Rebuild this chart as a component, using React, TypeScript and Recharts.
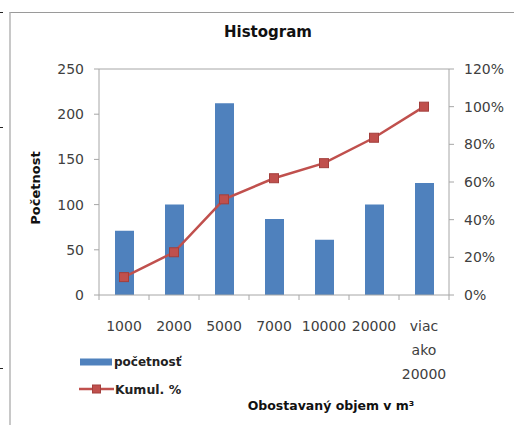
import React from 'react';
import { ComposedChart, Bar, Line, XAxis, YAxis, Legend, ReferenceLine } from 'recharts';

const categories = ['1000', '2000', '5000', '7000', '10000', '20000', 'viac ako 20000'];
const counts = [71, 100, 212, 84, 61, 100, 124];
const cumulative = [9.5, 22.7, 50.8, 62, 70, 83.5, 100];
const leftTicks = [0, 50, 100, 150, 200, 250];
const rightTicks = [0, 20, 40, 60, 80, 100, 120];

const seriesCountName = 'početnosť';
const seriesCumName = 'Kumul. %';

const data = categories.map((c, i) => ({ name: c, count: counts[i], cum: cumulative[i] }));

const FONT = '"DejaVu Sans", sans-serif';
const BLUE = '#4F81BD';
const RED = '#C0504D';
const AXIS = '#a6a6a6';
const TEXT = '#404040';

const XTick = (props: any) => {
  const { x, y, payload, width, visibleTicksCount, index } = props;
  const lines = String(payload.value).split(' ');
  const band = width && visibleTicksCount ? width / visibleTicksCount : 0;
  const isLast = index === visibleTicksCount - 1;
  return (
    <g>
      {band > 0 && <line x1={x - band / 2} y1={y} x2={x - band / 2} y2={y + 5} stroke={AXIS} />}
      {band > 0 && isLast && <line x1={x + band / 2} y1={y} x2={x + band / 2} y2={y + 5} stroke={AXIS} />}
      {lines.map((l, i) => (
        <text
          key={i}
          x={x}
          y={y + 31 + i * 24}
          dy="0.35em"
          textAnchor="middle"
          fill={TEXT}
          fontSize={14}
          fontFamily={FONT}
        >
          {l}
        </text>
      ))}
    </g>
  );
};

const SquareDot = (props: any) => {
  const { cx, cy, index } = props;
  if (cx == null || cy == null) return null;
  return <rect key={index} x={cx - 4.5} y={cy - 4.5} width={9} height={9} fill={RED} stroke="#a33f3c" strokeWidth={1} />;
};

const LegendContent = () => (
  <div style={{ fontFamily: FONT, color: '#222' }}>
    <div style={{ display: 'flex', alignItems: 'center', height: 18 }}>
      <svg width={34} height={10} style={{ display: 'block' }}>
        <rect x={1} y={1.5} width={32} height={7} fill={BLUE} />
      </svg>
      <span style={{ fontSize: 12, fontWeight: 'bold', marginLeft: 1 }}>{seriesCountName}</span>
    </div>
    <div style={{ display: 'flex', alignItems: 'center', height: 18, marginTop: 9 }}>
      <svg width={36} height={12} style={{ display: 'block' }}>
        <line x1={0} y1={6} x2={35} y2={6} stroke={RED} strokeWidth={2.5} />
        <rect x={13.5} y={2} width={8} height={8} fill={RED} stroke="#a33f3c" strokeWidth={1} />
      </svg>
      <span style={{ fontSize: 12.5, fontWeight: 600, marginLeft: 0 }}>{seriesCumName}</span>
    </div>
  </div>
);

export default function App() {
  return (
    <div style={{ position: 'absolute', left: 0, top: 0, width: 514, height: 425, overflow: 'hidden', background: '#fff' }}>
      <div style={{ position: 'absolute', left: 9, top: 12, width: 600, height: 500, borderLeft: '2px solid #c8c8c8', borderTop: '1px solid #9a9a9a' }} />
      <div style={{ position: 'absolute', left: 0, top: 12, width: 3, height: 1, background: '#222' }} />
      <div style={{ position: 'absolute', left: 0, top: 127, width: 3, height: 1, background: '#222' }} />
      <div style={{ position: 'absolute', left: 0, top: 368, width: 3, height: 1, background: '#222' }} />
      <div
        style={{
          position: 'absolute',
          left: 268,
          top: 32,
          transform: 'translate(-50%, -50%)',
          fontFamily: FONT,
          fontWeight: 'bold',
          fontSize: 15,
          color: '#111',
          whiteSpace: 'nowrap',
        }}
      >
        Histogram
      </div>
      <div
        style={{
          position: 'absolute',
          left: 35,
          top: 188,
          transform: 'translate(-50%, -50%) rotate(-90deg)',
          fontFamily: FONT,
          fontWeight: 'bold',
          fontSize: 13,
          color: '#111',
          whiteSpace: 'nowrap',
        }}
      >
        Početnost
      </div>
      <div
        style={{
          position: 'absolute',
          left: 331,
          top: 405,
          transform: 'translate(-50%, -50%)',
          fontFamily: FONT,
          fontWeight: 'bold',
          fontSize: 12.5,
          color: '#111',
          whiteSpace: 'nowrap',
        }}
      >
        Obostavaný objem v m³
      </div>
      <div style={{ position: 'absolute', left: 0, top: 0 }}>
        <ComposedChart width={514} height={425} data={data} margin={{ top: 69, right: 5, left: 49, bottom: 100 }}>
          <XAxis
            dataKey="name"
            xAxisId="cat"
            tick={<XTick />}
            tickLine={false}
            tickSize={0}
            tickMargin={0}
            height={30}
            interval={0}
            stroke={AXIS}
          />
          <YAxis
            yAxisId="left"
            domain={[0, 250]}
            ticks={leftTicks}
            width={50}
            tickSize={5}
            tickMargin={10}
            stroke={AXIS}
            tick={{ fill: TEXT, fontSize: 14, fontFamily: FONT }}
            allowDataOverflow
          />
          <YAxis
            yAxisId="right"
            orientation="right"
            domain={[0, 120]}
            ticks={rightTicks}
            tickFormatter={(v: number) => `${v}%`}
            width={60}
            tickSize={5}
            tickMargin={10}
            stroke={AXIS}
            tick={{ fill: TEXT, fontSize: 14, fontFamily: FONT }}
            allowDataOverflow
          />
          <ReferenceLine yAxisId="left" xAxisId="cat" y={250} stroke={AXIS} />
          <Bar
            dataKey="count"
            name={seriesCountName}
            xAxisId="cat"
            yAxisId="left"
            fill={BLUE}
            barSize={19}
            isAnimationActive={false}
          />
          <Line
            dataKey="cum"
            name={seriesCumName}
            xAxisId="cat"
            yAxisId="right"
            stroke={RED}
            strokeWidth={2.5}
            dot={<SquareDot />}
            activeDot={false}
            isAnimationActive={false}
          />
          <Legend
            layout="vertical"
            align="center"
            verticalAlign="middle"
            content={<LegendContent />}
            wrapperStyle={{ position: 'absolute', left: 79, top: 353, width: 130 }}
          />
        </ComposedChart>
      </div>
    </div>
  );
}
